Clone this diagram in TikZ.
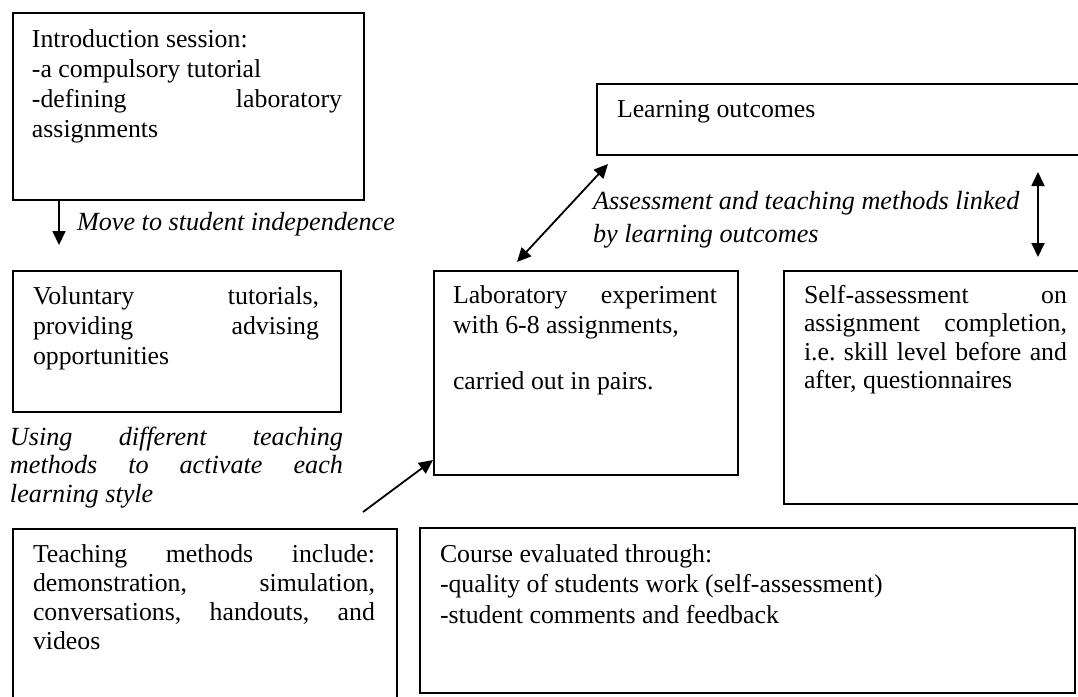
\documentclass[tikz,border=0pt]{standalone}
\usepackage{fontspec}
\setmainfont{Liberation Serif}
\usetikzlibrary{arrows.meta,calc}
\newcommand\jl[2]{\makebox[#1][s]{\frenchspacing\spaceskip=0pt\xspaceskip=0pt #2}}
\begin{document}
\begin{tikzpicture}[x=0.5pt,y=-0.5pt,
  box/.style={draw, line width=0.8pt, inner sep=0pt, outer sep=0pt, anchor=north west},
  txt/.style={anchor=base west, inner sep=0pt, outer sep=0pt, align=justify},
  tip/.tip={Triangle[length=7pt,width=6.5pt]},
  arr/.style={line width=0.9pt, -tip},
  darr/.style={line width=0.9pt, tip-tip}]
\clip (0,0) rectangle (1078,697);
\fill[white] (0,0) rectangle (1078,697);

% Introduction box
\node[box, minimum width=175.5pt, minimum height=93.5pt] (intro) at (13,13) {};
\node[txt, text width=155pt, font=\fontsize{12.9}{15}\selectfont] (introtxt) at (32,47)
  {Introduction session:\\-a compulsory tutorial\\\jl{155pt}{-defining laboratory}\\assignments};

% Move label
\node[txt, align=left, font=\fontsize{13.1}{15}\selectfont\itshape] (movetxt) at (77,230) {Move to student independence};

% Voluntary box
\node[box, minimum width=164pt, minimum height=70.5pt] (vol) at (13,271) {};
\node[txt, text width=143pt, font=\fontsize{12.9}{15.2}\selectfont] (voltxt) at (33,304)
  {\jl{143pt}{Voluntary tutorials,}\\\jl{143pt}{providing advising}\\opportunities};

% Using label
\node[txt, text width=166.5pt, font=\fontsize{13.1}{14.3}\selectfont\itshape] (usetxt) at (10,445)
  {\jl{166.5pt}{Using different teaching}\\\jl{166.5pt}{methods to activate each}\\learning style};

% Learning outcomes
\node[box, minimum width=246.5pt, minimum height=35.5pt] (lo) at (597,84) {};
\node[txt, align=left, font=\fontsize{12.9}{15}\selectfont] (lotxt) at (617,117) {Learning outcomes};

% Assessment label
\node[txt, text width=230pt, font=\fontsize{13.1}{16.5}\selectfont\itshape] (asstxt) at (593,209)
  {Assessment and teaching methods linked\\by learning outcomes};

% Laboratory box
\node[box, minimum width=152pt, minimum height=102pt] (lab) at (434,271) {};
\node[txt, text width=132pt, font=\fontsize{12.9}{15}\selectfont] (labtxt) at (453,303)
  {\jl{132pt}{Laboratory experiment}\\with 6-8 assignments,\\[13pt]carried out in pairs.};

% Self-assessment box
\node[box, minimum width=153pt, minimum height=116.5pt] (self) at (784,271) {};
\node[txt, text width=131.5pt, font=\fontsize{12.9}{14.3}\selectfont] (selftxt) at (804,303)
  {\jl{131.5pt}{Self-assessment on}\\\jl{131.5pt}{assignment completion,}\\\jl{131.5pt}{i.e. skill level before and}\\after, questionnaires};

% Teaching methods box
\node[box, minimum width=192pt, minimum height=90.5pt] (teach) at (13,529) {};
\node[txt, text width=171pt, font=\fontsize{12.9}{14.65}\selectfont] (teachtxt) at (33,562)
  {\jl{171pt}{Teaching methods include:}\\\jl{171pt}{demonstration, simulation,}\\\jl{171pt}{conversations, handouts, and}\\videos};

% Course box
\node[box, minimum width=327.5pt, minimum height=82.5pt] (course) at (420,528) {};
\node[txt, text width=300pt, font=\fontsize{12.9}{15.25}\selectfont] (coursetxt) at (440,562)
  {Course evaluated through:\\-quality of students work (self-assessment)\\-student comments and feedback};

% Connectors
\coordinate (a1e) at (59,245);
\draw[arr] (intro.south west -| a1e) -- (a1e);

\coordinate (d1) at (517,262);
\coordinate (d2) at (608,164);
\draw[darr] (d1) -- (d2);

\coordinate (v1) at (1038,172);
\coordinate (v2) at (1038,257);
\draw[darr] (v1) -- (v2);

\coordinate (u1) at (363,512);
\coordinate (u2) at (433,460);
\draw[arr] (u1) -- (u2);
\end{tikzpicture}
\end{document}
